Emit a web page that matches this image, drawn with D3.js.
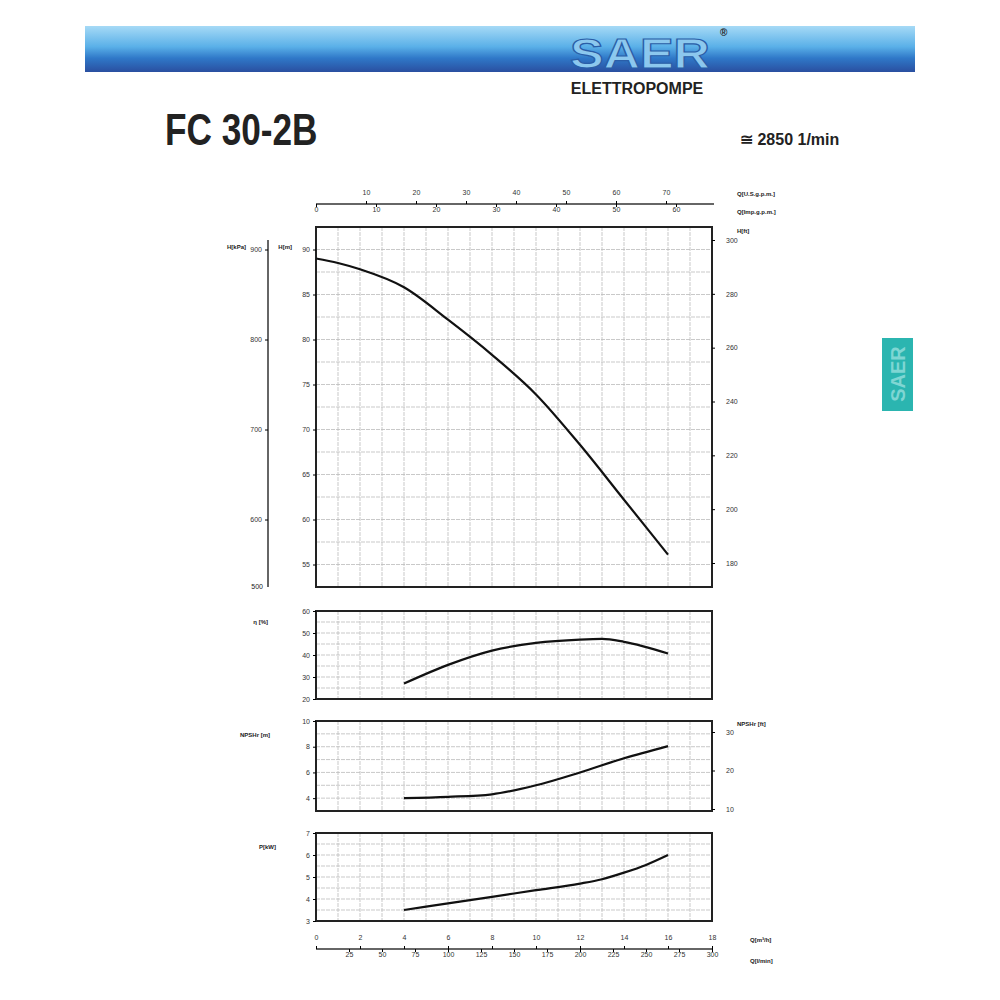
<!DOCTYPE html>
<html><head><meta charset="utf-8">
<script src="https://cdn.jsdelivr.net/npm/d3@7"></script>
<style>body{margin:0;background:#fff}text{font-family:"Liberation Sans",Arial,sans-serif;fill:#222}</style>
</head><body><svg id="c" width="1000" height="1000"></svg>
<script>
// curves read from the sheet, Q in m3/h
const headQ = [0, 1, 2, 4, 6, 8, 10, 12, 14, 16];
const headH = [89, 88.5, 87.8, 85.8, 82.2, 78.3, 73.9, 68.3, 62.2, 56.1];
const effQ = [4, 6, 8, 10, 12, 13, 14, 16];
const effV = [27, 35.5, 42, 45.5, 47, 47.3, 46, 40.7];
const npshQ = [4, 6, 8, 10, 12, 14, 16];
const npshV = [4.0, 4.1, 4.3, 5.0, 6.0, 7.1, 8.05];
const powQ = [4, 6, 8, 10, 12, 13, 14, 15, 16];
const powV = [3.5, 3.8, 4.1, 4.4, 4.7, 4.9, 5.2, 5.55, 6.0];
const hTicks = [55, 60, 65, 70, 75, 80, 85, 90];
const kpaTicks = [600, 700, 800, 900];
const ftTicks = [180, 200, 220, 240, 260, 280, 300];
const qTicks = [0, 2, 4, 6, 8, 10, 12, 14, 16, 18];
const lminTicks = [25, 50, 75, 100, 125, 150, 175, 200, 225, 250, 275, 300];
const usTicks = [10, 20, 30, 40, 50, 60, 70];
const impTicks = [0, 10, 20, 30, 40, 50, 60];

const svg = d3.select("#c");
const fmt = d3.format("d");
const x = d3.scaleLinear().domain([0, 18]).range([316, 712]);
const line = (xs, ys, yS) => d3.line().curve(d3.curveMonotoneX)(xs.map((q, i) => [x(q), yS(ys[i])]));

// header
const g = svg.append("defs").append("linearGradient").attr("id", "hb").attr("x1", 0).attr("x2", 0).attr("y1", 0).attr("y2", 1);
[["0", "#a6daf6"], ["0.45", "#5ab0e8"], ["0.7", "#2f78c8"], ["1", "#2a4fa0"]].forEach(s => g.append("stop").attr("offset", s[0]).attr("stop-color", s[1]));
svg.append("rect").attr("x", 85).attr("y", 26).attr("width", 830).attr("height", 46).attr("fill", "url(#hb)");
svg.append("text").attr("x", 640).attr("y", 68).attr("text-anchor", "middle").attr("font-size", 42).attr("font-weight", "bold")
  .attr("transform", "translate(640,68) scale(1.2,1) translate(-640,-68)")
  .style("fill", "#8cc8ee").attr("stroke", "#2a5ea8").attr("stroke-width", 1.2).text("SAER");
svg.append("text").attr("x", 720).attr("y", 36).attr("font-size", 10).attr("font-weight", "bold").text("®");
svg.append("text").attr("x", 637).attr("y", 94).attr("text-anchor", "middle").attr("font-size", 16).attr("font-weight", "bold").text("ELETTROPOMPE");
svg.append("text").attr("x", 165).attr("y", 145).attr("font-size", 44).attr("font-weight", "bold")
  .attr("transform", "translate(165,145) scale(0.8,1) translate(-165,-145)").text("FC 30-2B");
svg.append("text").attr("x", 740).attr("y", 145).attr("font-size", 16).attr("font-weight", "bold").text("≅ 2850 1/min");
svg.append("rect").attr("x", 882).attr("y", 338).attr("width", 31).attr("height", 73).attr("fill", "#2bb5b0");
svg.append("text").attr("transform", "translate(905,374) rotate(-90)").attr("text-anchor", "middle").attr("font-size", 20).attr("font-weight", "bold").style("fill", "#7fd6d3").text("SAER");

function styleAxis(a) { a.select(".domain").remove(); a.selectAll("text").attr("font-size", 7).style("fill", "#333"); return a; }
function panel(top, bot, dom, ticks, minorStep) {
  const y = d3.scaleLinear().domain(dom).range([bot, top]);
  const gp = svg.append("g");
  d3.range(0, 18.01, 1).forEach(q => gp.append("line").attr("x1", x(q)).attr("x2", x(q)).attr("y1", top).attr("y2", bot).attr("stroke", "#bbb").attr("stroke-width", 0.8).attr("stroke-dasharray", "4,1"));
  d3.range(dom[0], dom[1] + 0.001, minorStep).forEach(v => gp.append("line").attr("x1", x(0)).attr("x2", x(18)).attr("y1", y(v)).attr("y2", y(v)).attr("stroke", "#bbb").attr("stroke-width", 0.8).attr("stroke-dasharray", "4,1"));
  gp.append("rect").attr("x", x(0)).attr("y", top).attr("width", x(18) - x(0)).attr("height", bot - top).attr("fill", "none").attr("stroke", "#222").attr("stroke-width", 2);
  styleAxis(gp.append("g").attr("transform", `translate(${x(0)},0)`).call(d3.axisLeft(y).tickValues(ticks).tickSize(3).tickFormat(fmt)));
  return y;
}
function curve(xs, ys, y) {
  svg.append("path").attr("d", line(xs, ys, y)).attr("fill", "none").attr("stroke", "#111").attr("stroke-width", 2.2);
}
function label(xp, yp, t, anchor) {
  svg.append("text").attr("x", xp).attr("y", yp).attr("text-anchor", anchor || "end").attr("font-size", 6).attr("font-weight", "bold").text(t);
}

// head
const yH = panel(227, 587, [52.5, 92.5], hTicks, 2.5);
curve(headQ, headH, yH);
svg.append("line").attr("x1", 268).attr("x2", 268).attr("y1", 240).attr("y2", 587).attr("stroke", "#333").attr("stroke-width", 1.5);
styleAxis(svg.append("g").attr("transform", "translate(268,0)").call(d3.axisLeft(d3.scaleLinear().domain([5250, 9250]).range([587, 227])).tickValues(kpaTicks.map(k => k * 10)).tickSize(3).tickFormat(d => d / 10)));
svg.append("text").attr("x", 263).attr("y", 589).attr("text-anchor", "end").attr("font-size", 7).text("500");
const yF = d3.scaleLinear().domain([180, 300]).range([563, 240]);
styleAxis(svg.append("g").attr("transform", `translate(${x(18)},0)`).call(d3.axisRight(yF).tickValues(ftTicks).tickSize(3))).selectAll("text").attr("dx", 8);
label(246, 249, "H[kPa]"); label(292, 249, "H[m]"); label(737, 233, "H[ft]", "start");

// efficiency
const yE = panel(611, 699, [20, 60], [20, 30, 40, 50, 60], 5);
curve(effQ, effV, yE); label(268, 624, "η [%]");

// npsh
const yN = panel(721, 811, [3, 10], [4, 6, 8, 10], 1);
curve(npshQ, npshV, yN); label(270, 737, "NPSHr [m]");
const yNf = d3.scaleLinear().domain([10, 30]).range([809, 732]);
styleAxis(svg.append("g").attr("transform", `translate(${x(18)},0)`).call(d3.axisRight(yNf).tickValues([10, 20, 30]).tickSize(3))).selectAll("text").attr("dx", 8);
label(737, 726, "NPSHr [ft]", "start");

// power
const yP = panel(833, 921, [3, 7], [3, 4, 5, 6, 7], 0.5);
curve(powQ, powV, yP); label(276, 849, "P[kW]");

// top flow axes
const xUS = d3.scaleLinear().domain([0, 10]).range([316, 366]);
const xImp = d3.scaleLinear().domain([0, 10]).range([316, 376]);
svg.append("line").attr("x1", 316).attr("x2", 714).attr("y1", 204).attr("y2", 204).attr("stroke", "#333").attr("stroke-width", 1.5);
styleAxis(svg.append("g").attr("transform", "translate(0,204)").call(d3.axisTop(xUS).tickValues(usTicks).tickSize(3).tickFormat(fmt))).selectAll("text").attr("dy", -3);
styleAxis(svg.append("g").attr("transform", "translate(0,204)").call(d3.axisBottom(xImp).tickValues(impTicks).tickSize(3).tickFormat(fmt))).selectAll("text").attr("dy", 2);
label(737, 196, "Q[U.S.g.p.m.]", "start"); label(737, 214, "Q[Imp.g.p.m.]", "start");

// bottom flow axes
const xL = d3.scaleLinear().domain([0, 300]).range([316, 712]);
svg.append("line").attr("x1", 316).attr("x2", 712).attr("y1", 949).attr("y2", 949).attr("stroke", "#333").attr("stroke-width", 1.5);
styleAxis(svg.append("g").attr("transform", "translate(0,949)").call(d3.axisTop(x).tickValues(qTicks).tickSize(3).tickFormat(fmt))).selectAll("text").attr("dy", -3);
styleAxis(svg.append("g").attr("transform", "translate(0,949)").call(d3.axisBottom(xL).tickValues(lminTicks).tickSize(3).tickFormat(fmt))).selectAll("text").attr("dy", 2);
label(750, 942, "Q[m³/h]", "start"); label(750, 963, "Q[l/min]", "start");
</script></body></html>
